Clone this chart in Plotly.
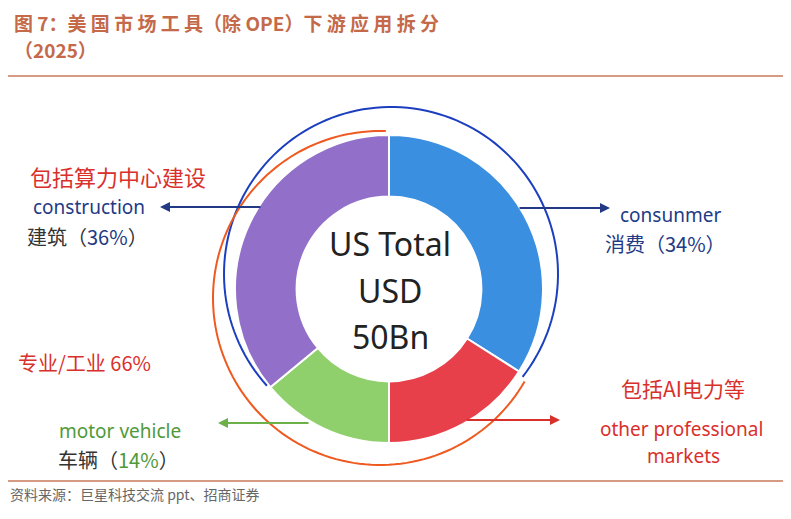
import numpy as np
import plotly.graph_objects as go

labels = ["consunmer", "other professional markets", "motor vehicle", "construction"]
values = [34, 16, 14, 36]
colors = ["#3b8fe0", "#e8404a", "#8fd06c", "#9270c9"]

W, H = 791, 519
OFF = 8
def px(x): return (x - OFF) / W
def py(y): return 1 - (y - OFF) / H

fig = go.Figure(go.Pie(
    labels=labels, values=values, hole=0.6, sort=False, direction="clockwise",
    rotation=0, marker=dict(colors=colors, line=dict(color="white", width=2)),
    textinfo="none", hoverinfo="label+percent", showlegend=False,
    domain=dict(x=[px(235), px(543)], y=[py(443), py(135)]),
))

red = "#d9302c"
navy = "#223a86"
green = "#4f9a3a"
ann = []
def t(x, y, s, color, size, anchor="left", font="Noto Sans CJK SC"):
    ann.append(dict(x=px(x), y=py(y), xref="paper", yref="paper", text=s, showarrow=False,
                    xanchor=anchor, yanchor="middle", font=dict(color=color, size=size, family=font)))
tc = "#c46a4a"
t(12, 22, "<b>图 7：美 国 市 场 工 具（除 OPE）下 游 应 用 拆 分</b>", tc, 19)
t(12, 50, "<b>（2025）</b>", tc, 19)
t(390, 243, "US Total", "#222", 32, "center", "Noto Sans")
t(390, 290, "USD", "#222", 32, "center", "Noto Sans")
t(390, 336, "50Bn", "#222", 32, "center", "Noto Sans")
t(28, 176, "包括算力中心建设", red, 22)
t(31, 207, "construction", navy, 19, font="Noto Sans")
t(25, 236, "建筑（<span style='color:%s'>36%%</span>）" % navy, "#333", 20)
t(618, 215, "consunmer", navy, 19, font="Noto Sans")
t(603, 243, "消费（34%）", navy, 20)
t(16, 362, "专业/工业 66%", red, 20)
t(57, 431, "motor vehicle", green, 19, font="Noto Sans")
t(56, 459, "车辆（<span style='color:%s'>14%%</span>）" % green, "#333", 20)
t(619, 388, "包括AI电力等", red, 21)
t(598, 429, "other professional", red, 19, font="Noto Sans")
t(645, 456, "markets", red, 19, font="Noto Sans")
t(8, 494, "资料来源：巨星科技交流 ppt、招商证券", "#666", 14)

def arrow(x0, y0, x1, y1, c):
    ann.append(dict(x=px(x1), y=py(y1), ax=x0 - x1, ay=y0 - y1, xref="paper", yref="paper",
                    axref="pixel", ayref="pixel", showarrow=True, arrowhead=2, arrowwidth=2,
                    arrowcolor=c, text=""))
arrow(262, 207, 160, 207, navy)
arrow(518, 208, 610, 208, navy)
arrow(310, 423, 218, 423, "#6cb04a")
arrow(465, 420, 560, 420, red)

def arc_path(cx, cy, r, a0, a1):
    ang = np.radians(np.linspace(a0, a1, 120))
    xs = cx + r * np.cos(ang)
    ys = cy - r * np.sin(ang)
    return "M" + " L".join(f"{px(x):.5f},{py(y):.5f}" for x, y in zip(xs, ys))

shapes = [
    dict(type="line", xref="paper", yref="paper", x0=0, x1=1, y0=py(76), y1=py(76),
         line=dict(color="#c8785a", width=1.5)),
    dict(type="line", xref="paper", yref="paper", x0=0, x1=1, y0=py(481), y1=py(481),
         line=dict(color="#c8785a", width=1.5)),
    dict(type="path", xref="paper", yref="paper", path=arc_path(391, 274, 167, -38, 222),
         line=dict(color="#1c3fc0", width=2)),
    dict(type="path", xref="paper", yref="paper", path=arc_path(380, 298, 167, 88, 330),
         line=dict(color="#ef5a20", width=2)),
]

fig.update_layout(width=W, height=H, margin=dict(l=0, r=0, t=0, b=0),
                  paper_bgcolor="white", plot_bgcolor="white", annotations=ann, shapes=shapes)
fig.write_html("out.html")
